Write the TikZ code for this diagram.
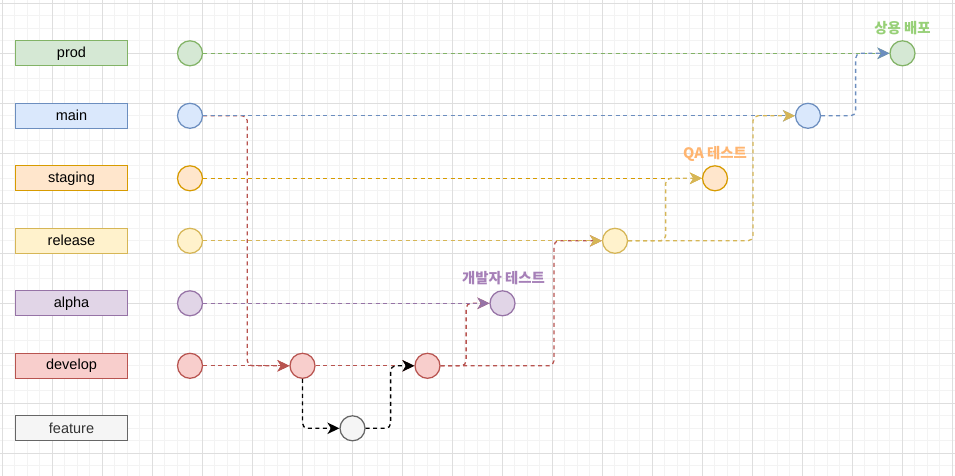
\documentclass[tikz,border=0pt]{standalone}
\usepackage{fontspec}
\setmainfont{Liberation Sans}
\newfontfamily\krfont{Noto Sans CJK KR}
\usetikzlibrary{arrows.meta,calc}
\definecolor{gfill}{HTML}{D5E8D4}\definecolor{gline}{HTML}{82B366}
\definecolor{bfill}{HTML}{DAE8FC}\definecolor{bline}{HTML}{6C8EBF}
\definecolor{ofill}{HTML}{FFE6CC}\definecolor{oline}{HTML}{D79B00}
\definecolor{yfill}{HTML}{FFF2CC}\definecolor{yline}{HTML}{D6B656}
\definecolor{pfill}{HTML}{E1D5E7}\definecolor{pline}{HTML}{9673A6}
\definecolor{rfill}{HTML}{F8CECC}\definecolor{rline}{HTML}{B85450}
\definecolor{kfill}{HTML}{F5F5F5}\definecolor{kline}{HTML}{666666}
\definecolor{ktext}{HTML}{333333}
\definecolor{gridminor}{RGB}{243,243,243}
\definecolor{gridmajor}{RGB}{222,222,222}
\definecolor{lgreen}{HTML}{97D077}
\definecolor{lorange}{HTML}{FFB570}
\definecolor{lpurple}{HTML}{A680B8}
\tikzset{
  lbl/.style={rectangle, draw, line width=1.25pt, minimum width=112.5pt, minimum height=25pt, inner sep=0pt, font=\fontsize{14.5}{16}\selectfont},
  cmt/.style={circle, draw, line width=1.25pt, minimum size=25pt, inner sep=0pt},
  flow/.style={line width=1.3pt, dash pattern=on 4pt off 3.5pt, rounded corners=5pt, -{Stealth[length=12pt,width=11.5pt,inset=3.5pt]}},
  krlbl/.style={font=\krfont\bfseries\fontsize{14.4}{16}\selectfont, inner sep=0pt},
  gridminorline/.style={draw=gridminor, line width=0.8pt},
  gridmajorline/.style={draw=gridmajor, line width=0.9pt}
}
\begin{document}
\begin{tikzpicture}[x=1pt,y=-1pt]
\useasboundingbox (0,0) rectangle (955,476);
\fill[white] (0,0) rectangle (955,476);
% grid
\foreach \i in {0,...,76} {\draw[gridminorline] ({2.3+12.5*\i},0) -- ({2.3+12.5*\i},476);}
\foreach \i in {0,...,37} {\draw[gridminorline] (0,{3.3+12.5*\i}) -- (955,{3.3+12.5*\i});}
\foreach \i in {0,...,19} {\draw[gridmajorline] ({2.3+50*\i},0) -- ({2.3+50*\i},476);}
\foreach \i in {0,...,9} {\draw[gridmajorline] (0,{3.3+50*\i}) -- (955,{3.3+50*\i});}
% branch labels
\node[lbl, draw=gline, fill=gfill] (lprod) at (71.5,53.3) {prod};
\node[lbl, draw=bline, fill=bfill] (lmain) at (71.5,115.8) {main};
\node[lbl, draw=oline, fill=ofill] (lstag) at (71.5,178.3) {staging};
\node[lbl, draw=yline, fill=yfill] (lrel) at (71.5,240.8) {release};
\node[lbl, draw=pline, fill=pfill] (lalpha) at (71.5,303.3) {alpha};
\node[lbl, draw=rline, fill=rfill] (ldev) at (71.5,365.8) {develop};
\node[lbl, draw=kline, fill=kfill, text=ktext] (lfeat) at (71.5,428.3) {feature};
% commits
\node[cmt, draw=gline, fill=gfill] (prod1) at (190,53.3) {};
\node[cmt, draw=bline, fill=bfill] (main1) at (190,115.8) {};
\node[cmt, draw=oline, fill=ofill] (stag1) at (190,178.3) {};
\node[cmt, draw=yline, fill=yfill] (rel1) at (190,240.8) {};
\node[cmt, draw=pline, fill=pfill] (alpha1) at (190,303.3) {};
\node[cmt, draw=rline, fill=rfill] (dev1) at (190,365.8) {};
\node[cmt, draw=rline, fill=rfill] (dev2) at (302.5,365.8) {};
\node[cmt, draw=kline, fill=kfill] (feat1) at (352.5,428.3) {};
\node[cmt, draw=rline, fill=rfill] (dev3) at (427.5,365.8) {};
\node[cmt, draw=pline, fill=pfill] (alpha2) at (502.5,303.3) {};
\node[cmt, draw=yline, fill=yfill] (rel2) at (615,240.8) {};
\node[cmt, draw=oline, fill=ofill] (stag2) at (715,178.3) {};
\node[cmt, draw=bline, fill=bfill] (main2) at (808,115.8) {};
\node[cmt, draw=gline, fill=gfill] (prod2) at (902.5,53.3) {};
% edges
\draw[flow, rline] (dev1) -- (dev2);
\draw[flow, rline] (main1.east) -- ([xshift=44.2pt]main1.east) |- (dev2.west);
\draw[flow, rline] (dev2) -- (dev3);
\draw[flow, black] (dev2.south) |- (feat1.west);
\draw[flow, black] (feat1.east) -- ([xshift=25pt]feat1.east) |- (dev3.west);
\draw[flow, rline] (dev3.east) -- ([xshift=25.5pt]dev3.east) |- (alpha2.west);
\draw[flow, rline] (dev3.east) -- ([xshift=113.3pt]dev3.east) |- (rel2.west);
\draw[flow, pline] (alpha1) -- (alpha2);
\draw[flow, yline] (rel1) -- (rel2);
\draw[flow, oline] (stag1) -- (stag2);
\draw[flow, bline] (main1) -- (main2);
\draw[flow, gline] (prod1) -- (prod2);
\draw[flow, yline] (rel2.east) -- ([xshift=37.5pt]rel2.east) |- (stag2.west);
\draw[flow, yline] (rel2.east) -- ([xshift=124.8pt]rel2.east) |- (main2.west);
\draw[flow, bline] (main2.east) -- ([xshift=34.5pt]main2.east) |- (prod2.west);
% annotations
\node[krlbl, text=lgreen] (tprod) at (902.5,28.5) {상용 배포};
\node[krlbl, text=lorange] (tqa) at (715,153.5) {QA 테스트};
\node[krlbl, text=lpurple] (tdev) at (503.5,278.5) {개발자 테스트};
\end{tikzpicture}
\end{document}
